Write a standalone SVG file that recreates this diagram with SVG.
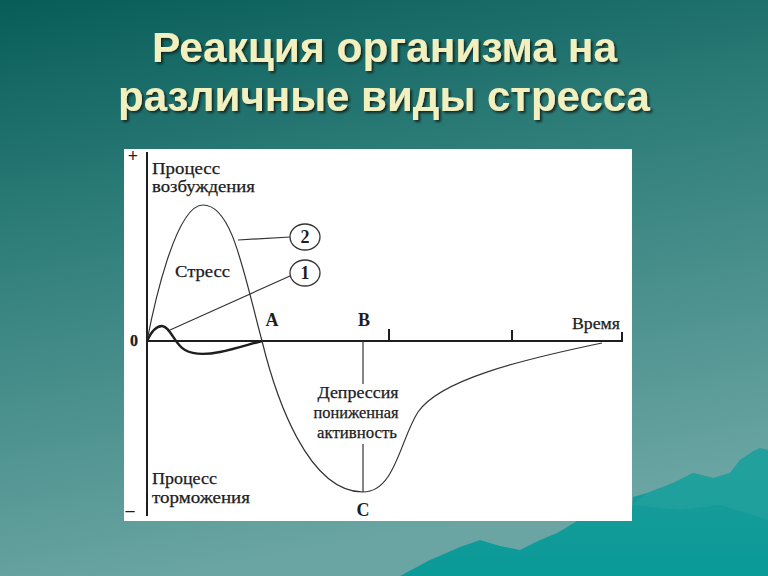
<svg xmlns="http://www.w3.org/2000/svg" width="768" height="576" viewBox="0 0 768 576">
<defs>
<linearGradient id="bg" x1="0" y1="0" x2="0.25" y2="1">
<stop offset="0" stop-color="#085d59"/>
<stop offset="0.4" stop-color="#2f7e7a"/>
<stop offset="1" stop-color="#6aa5a3"/>
</linearGradient>
<linearGradient id="mt" x1="0" y1="0" x2="0" y2="1">
<stop offset="0" stop-color="#1c9d9a"/>
<stop offset="1" stop-color="#0a9a98"/>
</linearGradient>
<filter id="sh" x="-5%" y="-20%" width="110%" height="140%">
<feDropShadow dx="2" dy="2" stdDeviation="0.8" flood-color="#10231c" flood-opacity="0.9"/>
</filter>
</defs>
<style>
.title{font-family:"Liberation Sans",Arial,sans-serif;font-weight:bold;font-size:43px;fill:#f3f0c0}
.lbl{font-family:"Liberation Serif","Times New Roman",serif;font-size:16px;fill:#1c1c1c;stroke:#1c1c1c;stroke-width:0.25}
.ctr{text-anchor:middle}
.big{font-family:"Liberation Serif","Times New Roman",serif;font-weight:bold;font-size:18px;fill:#1e1e1e;text-anchor:middle}
.axis{stroke:#1e1e1e;stroke-width:2;fill:none}
.thin{stroke:#333;stroke-width:1.2;fill:none}
.thick{stroke:#1e1e1e;stroke-width:2.4;fill:none}
.circ{stroke:#333;stroke-width:1.3;fill:#fff}
</style>
<rect x="0" y="0" width="768" height="576" fill="url(#bg)"/>
<path d="M400,576 L430,560 L460,547 L480,540 L500,546 L520,550 L540,540 L557,533 L572,524 L580,519 L600,515 L632,510 L633,497 L647,493 L660,488 L673,483 L693,473 L705,476 L713,478 L730,473 L740,460 L752,452 L760,448 L768,450 L768,576 Z" fill="url(#mt)"/>
<path d="M632,505 L647,493 L673,483 L693,473 L713,478 L730,473 L740,460 L760,448 L768,450 L768,520 L720,505 L680,510 Z" fill="#2aa3a0" opacity="0.5"/>
<g id="title" filter="url(#sh)">
<text class="title" x="152" y="62" textLength="465" lengthAdjust="spacingAndGlyphs">Реакция организма на</text>
<text class="title" x="118" y="111" textLength="532" lengthAdjust="spacingAndGlyphs">различные виды стресса</text>
</g>
<rect x="124" y="149" width="508" height="372" fill="#fff"/>
<g id="axes">
<line class="axis" x1="147" y1="152" x2="147" y2="516" stroke-width="1.6"/>
<line class="axis" x1="147" y1="341" x2="622" y2="341"/>
<line class="axis" x1="389" y1="329" x2="389" y2="341" stroke-width="1.6"/>
<line class="axis" x1="512" y1="330" x2="512" y2="341" stroke-width="1.6"/>
<line class="axis" x1="622" y1="332" x2="622" y2="342" stroke-width="1.8"/>
<text class="big" x="133" y="162" font-size="13">+</text>
<text class="lbl ctr" x="134" y="346" font-weight="bold" font-size="14">0</text>
<text class="big" x="130" y="516" font-size="16">–</text>
</g>
<g id="curve2">
<path class="thin" d="M147,341 C153,310 175,205 203,205 C232,205 243,270 262,341 C276,398 308,492 363,492 C395,492 400,440 418,412 C440,380 520,360 602,343"/>
</g>
<g id="curve1">
<path class="thick" d="M147,341 C152,330 157,326 162,326 C170,326 175,345 185,350 C192,354 205,355 220,352 C235,349 250,344 262,341"/>
</g>
<g id="connectors">
<line class="thin" x1="238" y1="240" x2="290" y2="237"/>
<line class="thin" x1="170" y1="330" x2="290" y2="276"/>
<line class="thin" x1="363" y1="341" x2="363" y2="384"/>
<line class="thin" x1="363" y1="444" x2="363" y2="492"/>
</g>
<g id="marker2">
<ellipse class="circ" cx="305" cy="237" rx="15" ry="13"/>
<text class="big ctr" x="305" y="243" font-size="15">2</text>
</g>
<g id="marker1">
<ellipse class="circ" cx="305" cy="273" rx="15" ry="13"/>
<text class="big ctr" x="305" y="279" font-size="15">1</text>
</g>
<g id="labels">
<text class="lbl" x="152" y="174" textLength="68" lengthAdjust="spacingAndGlyphs">Процесс</text>
<text class="lbl" x="152" y="192" textLength="103" lengthAdjust="spacingAndGlyphs">возбуждения</text>
<text class="lbl" x="175" y="277" textLength="55" lengthAdjust="spacingAndGlyphs">Стресс</text>
<text class="big" x="272" y="326">A</text>
<text class="big" x="364" y="326">B</text>
<text class="lbl" x="572" y="329" textLength="48" lengthAdjust="spacingAndGlyphs">Время</text>
<text class="lbl ctr" x="358" y="398" textLength="81" lengthAdjust="spacingAndGlyphs">Депрессия</text>
<text class="lbl ctr" x="356" y="418" textLength="85" lengthAdjust="spacingAndGlyphs">пониженная</text>
<text class="lbl ctr" x="357" y="438" textLength="80" lengthAdjust="spacingAndGlyphs">активность</text>
<text class="lbl" x="152" y="484" textLength="65" lengthAdjust="spacingAndGlyphs">Процесс</text>
<text class="lbl" x="152" y="503" textLength="98" lengthAdjust="spacingAndGlyphs">торможения</text>
<text class="big" x="363" y="516">C</text>
</g>
</svg>
